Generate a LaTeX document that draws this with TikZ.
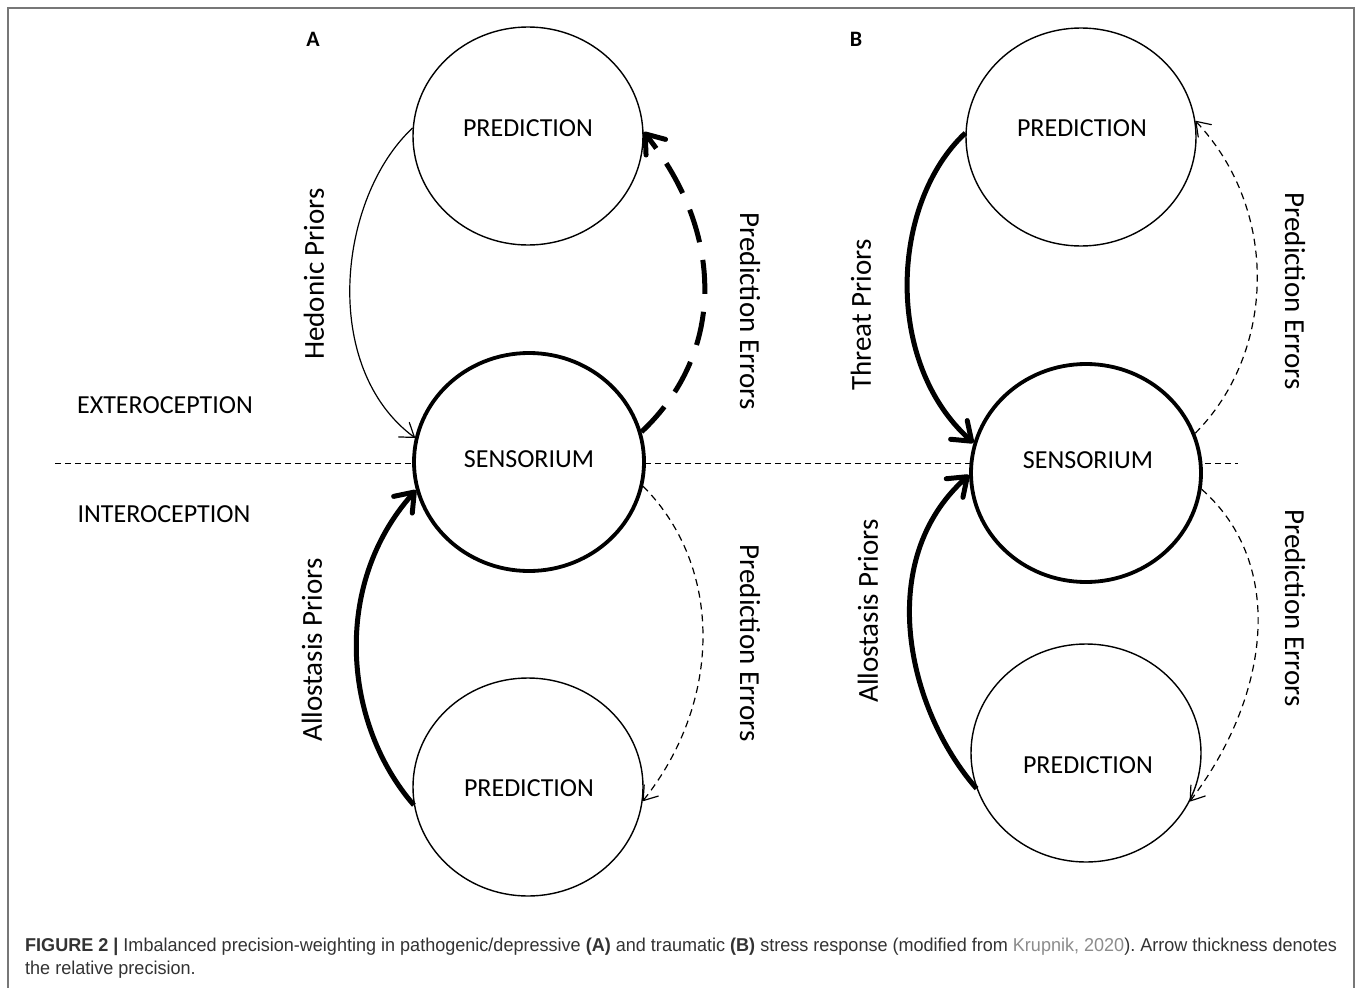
\documentclass[tikz,border=0pt]{standalone}
\usepackage{fontspec}
\setmainfont{Carlito}
\newfontfamily\capfont[FakeStretch=0.97]{Liberation Sans}
\usetikzlibrary{arrows.meta,shapes.geometric}
\definecolor{frameg}{HTML}{777777}
\definecolor{captxt}{HTML}{333333}
\definecolor{krup}{HTML}{8C8C8C}
\begin{document}
\begin{tikzpicture}[x=1pt,y=-1pt,
  thinc/.style={ellipse,draw,fill=white,line width=1.4pt,minimum width=230pt,minimum height=218pt,inner sep=0pt},
  thickc/.style={thinc,line width=3.8pt},
  capslbl/.style={font=\fontsize{26}{30}\selectfont,inner sep=0pt},
  side/.style={font=\fontsize{29}{32}\selectfont,inner sep=0pt},
  panellbl/.style={font=\bfseries\fontsize{22}{24}\selectfont,inner sep=0pt},
  thinarr/.style={line width=1.2pt,-{Straight Barb[length=13pt,width=18pt,round]}},
  thickarr/.style={line width=5pt,-{Straight Barb[length=17pt,width=25pt,round]}},
  thindash/.style={thinarr,dash pattern=on 7pt off 5pt},
  thickdash/.style={thickarr,dash pattern=on 34pt off 18pt},
  hdash/.style={line width=1pt,dash pattern=on 6pt off 4pt},
  framestyle/.style={draw=frameg,line width=1.2pt},
  captext/.style={anchor=base west,inner sep=0pt,text=captxt,font=\capfont\fontsize{18.6}{23}\selectfont\frenchspacing}
]
\useasboundingbox (0,0) rectangle (1358,988);
\fill[white] (0,0) rectangle (1358,988);
\draw[framestyle] (8,988) -- (8,8) -- (1354,8) -- (1354,988);

% horizontal divider
\coordinate (hl) at (55,463);
\coordinate (hr) at (1238,463);
\draw[hdash] (hl) -- (hr);

% panel labels
\node[panellbl] (labA) at (313,39) {A};
\node[panellbl] (labB) at (856,39) {B};

% circles
\node[thinc] (pA) at (528,136) {};
\node[thickc] (sA) at (529,462) {};
\node[thinc] (qA) at (528,787) {};
\node[thinc] (pB) at (1081,137) {};
\node[thickc] (sB) at (1086,473) {};
\node[thinc] (qB) at (1086,753) {};

\node[capslbl] (tpA) at (528,128) {PREDICTION};
\node[capslbl] (tsA) at (529,459) {SENSORIUM};
\node[capslbl] (tqA) at (529,788) {PREDICTION};
\node[capslbl] (tpB) at (1082,128) {PREDICTION};
\node[capslbl] (tsB) at (1088,460) {SENSORIUM};
\node[capslbl] (tqB) at (1088,765) {PREDICTION};

\node[capslbl] (ext) at (165,405) {EXTEROCEPTION};
\node[capslbl] (int) at (164,514) {INTEROCEPTION};

% side labels
\node[side,rotate=90] (hed) at (314,274) {Hedonic Priors};
\node[side,rotate=-90] (peA1) at (750,311) {Prediction Errors};
\node[side,rotate=90] (allA) at (312,650) {Allostasis Priors};
\node[side,rotate=-90] (peA2) at (750,643) {Prediction Errors};
\node[side,rotate=90] (thr) at (861,315) {Threat Priors};
\node[side,rotate=-90] (peB1) at (1295,291) {Prediction Errors};
\node[side,rotate=90] (allB) at (868,611) {Allostasis Priors};
\node[side,rotate=-90] (peB2) at (1295,608) {Prediction Errors};

% panel A connectors
\draw[thinarr] (pA.176) .. controls +(-75,70) and +(-95,-70) .. (sA.168);
\draw[thickdash] (sA.15) .. controls +(85,-80) and +(80,100) .. (pA.2);
\draw[thickarr] (qA.189) .. controls +(-70,-80) and +(-85,95) .. (sA.194);
\draw[thindash] (sA.348) .. controls +(80,80) and +(80,-100) .. (qA.353);

% panel B connectors
\draw[thickarr] (pB.178) .. controls +(-75,70) and +(-90,-80) .. (sB.165);
\draw[thindash] (sB.20) .. controls +(80,-80) and +(85,90) .. (pB.8);
\draw[thickarr] (qB.198) .. controls +(-70,-80) and +(-95,85) .. (sB.181);
\draw[thindash] (sB.352) .. controls +(85,75) and +(80,-105) .. (qB.335);

% caption
\node[captext] (cap1) at (25,951) {\textbf{FIGURE 2 |} Imbalanced precision-weighting in pathogenic/depressive \textbf{(A)} and traumatic \textbf{(B)} stress response (modified from {\color{krup}Krupnik, 2020}). Arrow thickness denotes};
\node[captext] (cap2) at (25,974) {the relative precision.};
\end{tikzpicture}
\end{document}
